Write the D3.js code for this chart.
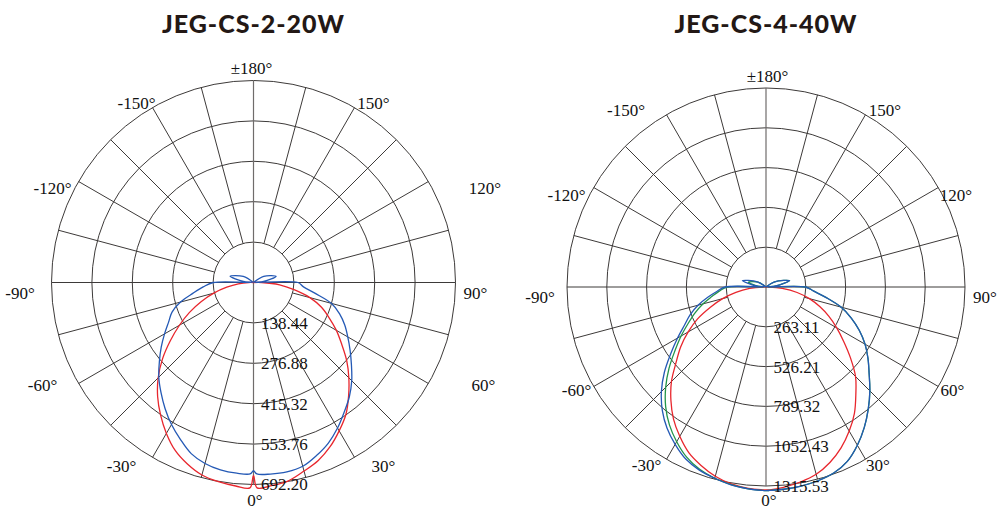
<!DOCTYPE html>
<html>
<head>
<meta charset="utf-8">
<script src="https://cdn.jsdelivr.net/npm/d3@7"></script>
<style>
  html, body { margin: 0; padding: 0; background: #fff; }
  svg { display: block; }
</style>
</head>
<body>
<svg id="chart" width="1000" height="516"></svg>
<script>
// ---------------- DATA ----------------
const titles = ["JEG-CS-2-20W", "JEG-CS-4-40W"];

// gamma angles (deg): 0 = straight down, +90 = right, ±180 = up
const angles = [-180, -140, -121, -105, -96, -92,
  -90, -85, -80, -75, -70, -65, -60, -55, -50, -45, -40, -35, -30, -25, -20, -15, -10, -5,
  -1, 0, 1,
  5, 10, 15, 20, 25, 30, 35, 40, 45, 50, 55, 60, 65, 70, 75, 80, 85, 90,
  92, 96, 105, 121, 140, 180];

// Chart 1: JEG-CS-2-20W (cd)
const ringTicks1 = ["138.44", "276.88", "415.32", "553.76", "692.20"];
const max1 = 692.20;
const red1 = [0, 0, 0, 0, 0, 0,
  17, 52, 93, 141, 190, 242, 293, 348, 407, 462, 511, 555, 597, 635, 662, 683, 693, 700,
  704, 662, 704,
  699, 690, 669, 649, 621, 587, 552, 507, 462, 417, 369, 328, 286, 248, 200, 141, 90, 28,
  0, 0, 0, 0, 0, 0];
const blue1 = [0, 0, 41, 83, 35, 7,
  138, 173, 210, 259, 297, 321, 352, 386, 421, 459, 493, 528, 562, 593, 624, 642, 652, 656,
  656, 645, 656,
  659, 659, 652, 631, 607, 576, 542, 511, 476, 438, 404, 373, 345, 314, 276, 215, 172, 152,
  7, 35, 80, 41, 0, 0];

// Chart 2: JEG-CS-4-40W (cd)
const ringTicks2 = ["263.11", "526.21", "789.32", "1052.43", "1315.53"];
const max2 = 1315.53;
const red2 = [0, 0, 0, 0, 0, 0,
  20, 108, 202, 297, 391, 499, 594, 688, 776, 884, 978, 1066, 1140, 1208, 1255, 1295, 1322, 1336,
  1341, 1342, 1341,
  1329, 1309, 1282, 1235, 1174, 1100, 1019, 924, 837, 729, 627, 540, 459, 378, 297, 209, 108, 20,
  0, 0, 0, 0, 0, 0];
const green2 = [0, 0, 61, 121, 54, 13,
  256, 310, 364, 432, 499, 567, 648, 735, 837, 938, 1032, 1113, 1181, 1241, 1282, 1309, 1326, 1339,
  1345, 1346, 1345,
  1342, 1336, 1326, 1309, 1272, 1208, 1133, 1052, 971, 890, 823, 756, 681, 600, 513, 405, 317, 262,
  13, 67, 162, 67, 0, 0];
const blue2 = [0, 0, 67, 162, 67, 13,
  270, 324, 391, 465, 533, 594, 675, 769, 877, 978, 1066, 1140, 1201, 1255, 1288, 1309, 1329, 1339,
  1345, 1346, 1345,
  1342, 1336, 1326, 1309, 1272, 1208, 1133, 1052, 971, 890, 823, 756, 681, 600, 513, 405, 317, 262,
  13, 67, 162, 67, 0, 0];

// angle tick labels
const angleTicks = [0, 30, 60, 90, 120, 150, 180, -150, -120, -90, -60, -30];
const angleLabels = ["0°", "30°", "60°", "90°", "120°", "150°", "±180°", "-150°", "-120°", "-90°", "-60°", "-30°"];

// ---------------- LAYOUT / STYLE ----------------
// label centre offsets from the pole (px), same order as angleTicks
const labelOffsets1 = [[1.5, 217.5], [130, 183.5], [230, 102.5], [222, 10.5], [231.5, -94.5], [120, -179.5],
  [-2, -214.5], [-117, -179.5], [-201, -94.5], [-233.5, 10.5], [-211, 102.5], [-132, 183.5]];
const labelOffsets2 = [[3, 213], [112, 178], [186.5, 103], [219, 10], [190, -92], [119, -177],
  [1.5, -211], [-140, -177], [-199.5, -92], [-226, 10], [-189.5, 103], [-119.5, 178]];

const charts = [
  { title: titles[0], cx: 253.5, cy: 282.5, R: 202, max: max1, rings: ringTicks1, lab: labelOffsets1,
    series: [{ v: red1, c: "#e8262d" }, { v: blue1, c: "#2459b5" }], titleY: 33 },
  { title: titles[1], cx: 766, cy: 287, R: 199, max: max2, rings: ringTicks2, lab: labelOffsets2,
    series: [{ v: red2, c: "#e8262d" }, { v: green2, c: "#23944a" }, { v: blue2, c: "#2459b5" }], titleY: 33 }
];
const gridColor = "#3d3a39";
const serif = "'Liberation Serif', 'Times New Roman', serif";

const svg = d3.select("#chart");
svg.append("rect").attr("width", 1000).attr("height", 516).attr("fill", "#fff");

const rad = a => a * Math.PI / 180;

charts.forEach(ch => {
  const g = svg.append("g").attr("transform", `translate(${ch.cx},${ch.cy})`);
  const r = d3.scaleLinear().domain([0, ch.max]).range([0, ch.R]);
  const ringVals = ch.rings.map(Number);
  const r1 = r(ringVals[0]);

  // rings
  g.selectAll("circle.ring").data(ringVals).join("circle")
    .attr("class", "ring").attr("r", d => r(d))
    .attr("fill", "none").attr("stroke", gridColor).attr("stroke-width", 1);

  // spokes every 15 deg
  const spokes = d3.range(-165, 181, 15);
  g.selectAll("line.spoke").data(spokes).join("line")
    .attr("class", "spoke")
    .attr("x1", d => (d % 90 === 0 ? 0 : r1 * Math.sin(rad(d))))
    .attr("y1", d => (d % 90 === 0 ? 0 : r1 * Math.cos(rad(d))))
    .attr("x2", d => ch.R * Math.sin(rad(d)))
    .attr("y2", d => ch.R * Math.cos(rad(d)))
    .attr("stroke", d => (d === 0 || d === 180) ? "#6f6c6b" : gridColor)
    .attr("stroke-width", d => (d === 0 || d === 180) ? 1.2 : 1);

  // curves
  const line = d3.lineRadial()
    .angle(d => Math.PI - rad(d[0]))
    .radius(d => r(d[1]))
    .curve(d3.curveCatmullRomClosed.alpha(0.5));
  ch.series.forEach(s => {
    const pts = angles.map((a, i) => [a, s.v[i]]);
    g.append("path").attr("d", line(pts))
      .attr("fill", "none").attr("stroke", s.c).attr("stroke-width", 1.3)
      .attr("stroke-linejoin", "round");
  });

  // ring value labels along 0 deg axis
  g.selectAll("text.rv").data(ch.rings).join("text")
    .attr("class", "rv")
    .attr("x", 7.5)
    .attr("y", d => r(+d))
    .attr("dy", "0.35em")
    .attr("font-family", serif).attr("font-size", 17).attr("fill", "#111")
    .text(d => d);

  // angle labels
  angleTicks.forEach((a, i) => {
    g.append("text")
      .attr("x", ch.lab[i][0]).attr("y", ch.lab[i][1]).attr("dy", "0.35em")
      .attr("text-anchor", "middle")
      .attr("font-family", serif).attr("font-size", 17).attr("fill", "#111")
      .text(angleLabels[i]);
  });

  // title
  svg.append("text")
    .attr("x", ch.cx).attr("y", ch.titleY)
    .attr("text-anchor", "middle")
    .attr("font-family", "Lato, 'Open Sans', sans-serif")
    .attr("font-weight", 900).attr("font-size", 25)
    .attr("letter-spacing", 1)
    .attr("fill", "#231815")
    .text(ch.title);
});
</script>
</body>
</html>
